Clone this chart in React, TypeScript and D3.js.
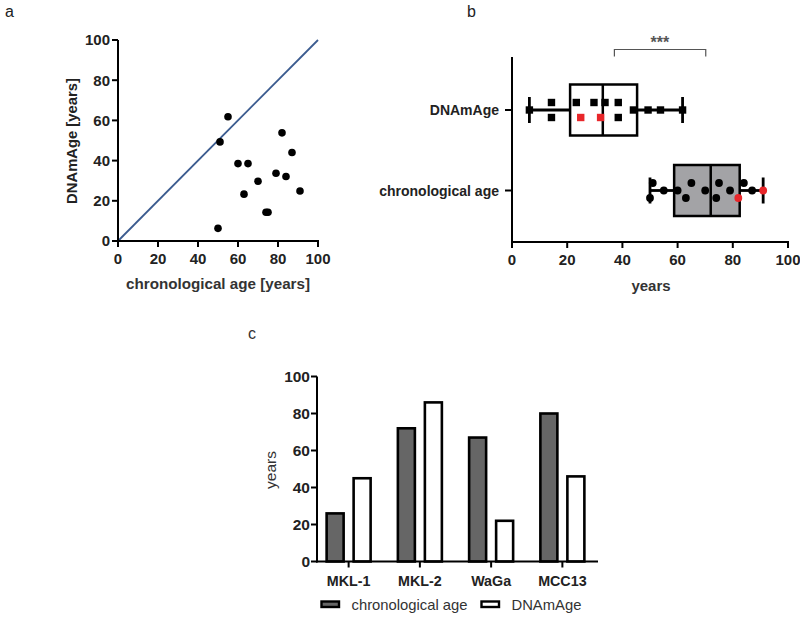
import React from "react";
import * as d3 from "d3";

// Panel a: chronological age vs DNAmAge per sample
const chronoAges = [55, 51, 60, 65, 82, 87, 79, 84, 70, 63, 91, 74, 75, 50];
const dnamAges = [61.8, 49.3, 38.5, 38.5, 53.8, 44, 33.7, 32.1, 29.7, 23.3, 24.9, 14.3, 14.3, 6.3];

// Panel b: dot positions (value, vertical jitter slot, highlighted)
const dnamDots = [6.3, 14.3, 14.3, 23.3, 24.9, 29.7, 32.1, 33.7, 38.5, 38.5, 44, 49.3, 53.8, 61.8];
const dnamSlots = [0, -1, 1, -1, 1, -1, 1, -1, -1, 1, 0, 0, 0, 0];
const dnamRed = [false, false, false, false, true, false, true, false, false, false, false, false, false, false];
const chronoDots = [50, 51, 55, 60, 63, 65, 70, 74, 75, 79, 82, 84, 87, 91];
const chronoSlots = [1, -1, 0, 0, 1, -1, 0, 1, -1, 0, 1, -1, 0, 0];
const chronoRed = [false, false, false, false, false, false, false, false, false, false, true, false, false, true];
const boxCategories = ["DNAmAge", "chronological age"];

// Panel c: cell lines
const cellLines = ["MKL-1", "MKL-2", "WaGa", "MCC13"];
const cellChrono = [26, 72, 67, 80];
const cellDnam = [45, 86, 22, 46];
const seriesNames = ["chronological age", "DNAmAge"];

const ticks = [0, 20, 40, 60, 80, 100];
const FONT = "'Liberation Sans', Arial, sans-serif";

// GraphPad-style quartiles (box edges)
function gpStats(v: number[]) {
  const s = [...v].sort((a, b) => a - b);
  const n = s.length;
  const q = (p: number) => {
    const pos = p * (n + 1) - 1;
    const lo = Math.floor(pos), hi = Math.ceil(pos);
    return s[lo] + (s[hi] - s[lo]) * (pos - lo);
  };
  return { min: s[0], max: s[n - 1], q1: q(0.25), med: d3.median(s)!, q3: q(0.75) };
}

export default function App() {
  // ---- Panel a
  const ax = d3.scaleLinear().domain([0, 100]).range([118, 318]);
  const ay = d3.scaleLinear().domain([0, 100]).range([241, 40]);

  // ---- Panel b
  const bx = d3.scaleLinear().domain([0, 100]).range([512, 788]);
  const by = d3.scalePoint<string>().domain(boxCategories).range([110, 190.5]);
  const bAxisY = 242;
  const jit = 7.5;
  const statsD = gpStats(dnamDots);
  const statsC = gpStats(chronoDots);

  // ---- Panel c
  const cx0 = d3.scaleBand<string>().domain(cellLines).range([313, 598]).paddingInner(0).paddingOuter(0);
  const cy = d3.scaleLinear().domain([0, 100]).range([561.5, 376.5]);
  const barW = 17;
  const barGap = 10;

  const renderBox = (st: any, yc: number, fill: string) => {
    const h = 51;
    return (
      <g>
        <line x1={bx(st.min)} x2={bx(st.q1)} y1={yc} y2={yc} stroke="#000" strokeWidth={2.8} />
        <line x1={bx(st.q3)} x2={bx(st.max)} y1={yc} y2={yc} stroke="#000" strokeWidth={2.8} />
        <line x1={bx(st.min)} x2={bx(st.min)} y1={yc - 13} y2={yc + 13} stroke="#000" strokeWidth={2.8} />
        <line x1={bx(st.max)} x2={bx(st.max)} y1={yc - 13} y2={yc + 13} stroke="#000" strokeWidth={2.8} />
        <rect x={bx(st.q1)} y={yc - h / 2} width={bx(st.q3) - bx(st.q1)} height={h} fill={fill} stroke="#000" strokeWidth={2.5} />
        <line x1={bx(st.med)} x2={bx(st.med)} y1={yc - h / 2} y2={yc + h / 2} stroke="#000" strokeWidth={2.5} />
      </g>
    );
  };

  const yD = by("DNAmAge")!;
  const yC = by("chronological age")!;

  return (
    <svg width={800} height={625} viewBox="0 0 800 625"
      style={{ position: "absolute", left: 0, top: 0, display: "block", fontFamily: FONT }}>
      <rect x={0} y={0} width={800} height={625} fill="#fff" />
      {/* ===== Panel a ===== */}
      <text x={5} y={17} fontSize={16} fill="#222">a</text>
      <line x1={ax(0)} x2={ax(100)} y1={ay(0)} y2={ay(100)} stroke="#3b5b8f" strokeWidth={1.8} />
      {chronoAges.map((c, i) => (
        <circle key={i} cx={ax(c)} cy={ay(dnamAges[i])} r={3.8} fill="#000" />
      ))}
      <line x1={ax(0)} x2={ax(0)} y1={ay(0) + 1} y2={ay(100)} stroke="#000" strokeWidth={2} />
      <line x1={ax(0) - 1} x2={ax(100) + 1} y1={ay(0)} y2={ay(0)} stroke="#000" strokeWidth={2} />
      {ticks.map((t) => (
        <g key={"ay" + t}>
          <line x1={ax(0) - 6} x2={ax(0)} y1={ay(t)} y2={ay(t)} stroke="#000" strokeWidth={2} />
          <text x={ax(0) - 8} y={ay(t)} dy="0.36em" textAnchor="end" fontSize={15} fontWeight="bold" fill="#222">{t}</text>
          <line x1={ax(t)} x2={ax(t)} y1={ay(0)} y2={ay(0) + 6} stroke="#000" strokeWidth={2} />
          <text x={ax(t)} y={ay(0) + 23} textAnchor="middle" fontSize={15} fontWeight="bold" fill="#222">{t}</text>
        </g>
      ))}
      <text x={218} y={289} textAnchor="middle" fontSize={15.2} fontWeight="bold" fill="#333">chronological age [years]</text>
      <text transform={`translate(77,141) rotate(-90)`} textAnchor="middle" fontSize={14.8} fontWeight="bold" fill="#222">DNAmAge [years]</text>

      {/* ===== Panel b ===== */}
      <text x={467} y={17} fontSize={16} fill="#222">b</text>
      {/* significance bracket */}
      <path d={`M${bx(37.1)},56.5 V49.5 H${bx(70.2)} V56.5`} fill="none" stroke="#555" strokeWidth={1.2} />
      <text x={bx(53.6)} y={48} textAnchor="middle" fontSize={16} fontWeight="bold" fill="#555">***</text>

      {renderBox(statsD, yD, "#fff")}
      {renderBox(statsC, yC, "#a3a3a6")}
      {dnamDots.map((v, i) => (
        <rect key={"dd" + i} x={bx(v) - 3.7} y={yD + dnamSlots[i] * jit - 3.7} width={7.4} height={7.4} fill={dnamRed[i] ? "#e8262a" : "#000"} />
      ))}
      {chronoDots.map((v, i) => (
        <circle key={"cd" + i} cx={bx(v)} cy={yC + chronoSlots[i] * jit} r={3.9} fill={chronoRed[i] ? "#e8262a" : "#000"} />
      ))}

      <line x1={bx(0)} x2={bx(0)} y1={57} y2={bAxisY + 1} stroke="#000" strokeWidth={2} />
      <line x1={bx(0) - 1} x2={bx(100) + 1} y1={bAxisY} y2={bAxisY} stroke="#000" strokeWidth={2} />
      {boxCategories.map((c) => (
        <g key={c}>
          <line x1={bx(0) - 7} x2={bx(0)} y1={by(c)!} y2={by(c)!} stroke="#000" strokeWidth={2} />
          <text x={bx(0) - 13} y={by(c)!} dy="0.36em" textAnchor="end" fontSize={14} fontWeight="bold" fill="#222">{c}</text>
        </g>
      ))}
      {ticks.map((t) => (
        <g key={"bx" + t}>
          <line x1={bx(t)} x2={bx(t)} y1={bAxisY} y2={bAxisY + 6} stroke="#000" strokeWidth={2} />
          <text x={bx(t)} y={bAxisY + 23} textAnchor="middle" fontSize={15} fontWeight="bold" fill="#222">{t}</text>
        </g>
      ))}
      <text x={651} y={291} textAnchor="middle" fontSize={15} fontWeight="bold" fill="#333">years</text>

      {/* ===== Panel c ===== */}
      <text x={248} y={339} fontSize={16} fill="#333">c</text>
      {cellLines.map((c, i) => {
        const center = cx0(c)! + cx0.bandwidth() / 2;
        const x1 = center - barGap / 2 - barW;
        const x2 = center + barGap / 2;
        return (
          <g key={c}>
            <rect x={x1} y={cy(cellChrono[i])} width={barW} height={cy(0) - cy(cellChrono[i])} fill="#666" stroke="#000" strokeWidth={2.6} />
            <rect x={x2} y={cy(cellDnam[i])} width={barW} height={cy(0) - cy(cellDnam[i])} fill="#fff" stroke="#000" strokeWidth={2.6} />
            <line x1={center} x2={center} y1={cy(0)} y2={cy(0) + 6} stroke="#000" strokeWidth={2} />
            <text x={center} y={cy(0) + 24} textAnchor="middle" fontSize={14.3} fontWeight="bold" fill="#222">{c}</text>
          </g>
        );
      })}
      <line x1={cx0.range()[0] + 4} x2={cx0.range()[0] + 4} y1={cy(0) + 1} y2={cy(100)} stroke="#000" strokeWidth={2} />
      <line x1={cx0.range()[0] + 3} x2={cx0.range()[1]} y1={cy(0)} y2={cy(0)} stroke="#000" strokeWidth={2} />
      {ticks.map((t) => (
        <g key={"cy" + t}>
          <line x1={cx0.range()[0] - 2} x2={cx0.range()[0] + 4} y1={cy(t)} y2={cy(t)} stroke="#000" strokeWidth={2} />
          <text x={cx0.range()[0] - 3} y={cy(t)} dy="0.36em" textAnchor="end" fontSize={15.5} fontWeight="bold" fill="#222">{t}</text>
        </g>
      ))}
      <text transform={`translate(276,470) rotate(-90)`} textAnchor="middle" fontSize={15.5} fill="#333">years</text>
      {/* legend */}
      {seriesNames.map((s, i) => {
        const lx = i === 0 ? 321.5 : 481.5;
        return (
          <g key={s}>
            <rect x={lx} y={601.5} width={17.5} height={5.5} fill={i === 0 ? "#666" : "#fff"} stroke="#000" strokeWidth={2.4} />
            <text x={lx + 30} y={610} fontSize={14.8} fill="#333">{s}</text>
          </g>
        );
      })}
    </svg>
  );
}
